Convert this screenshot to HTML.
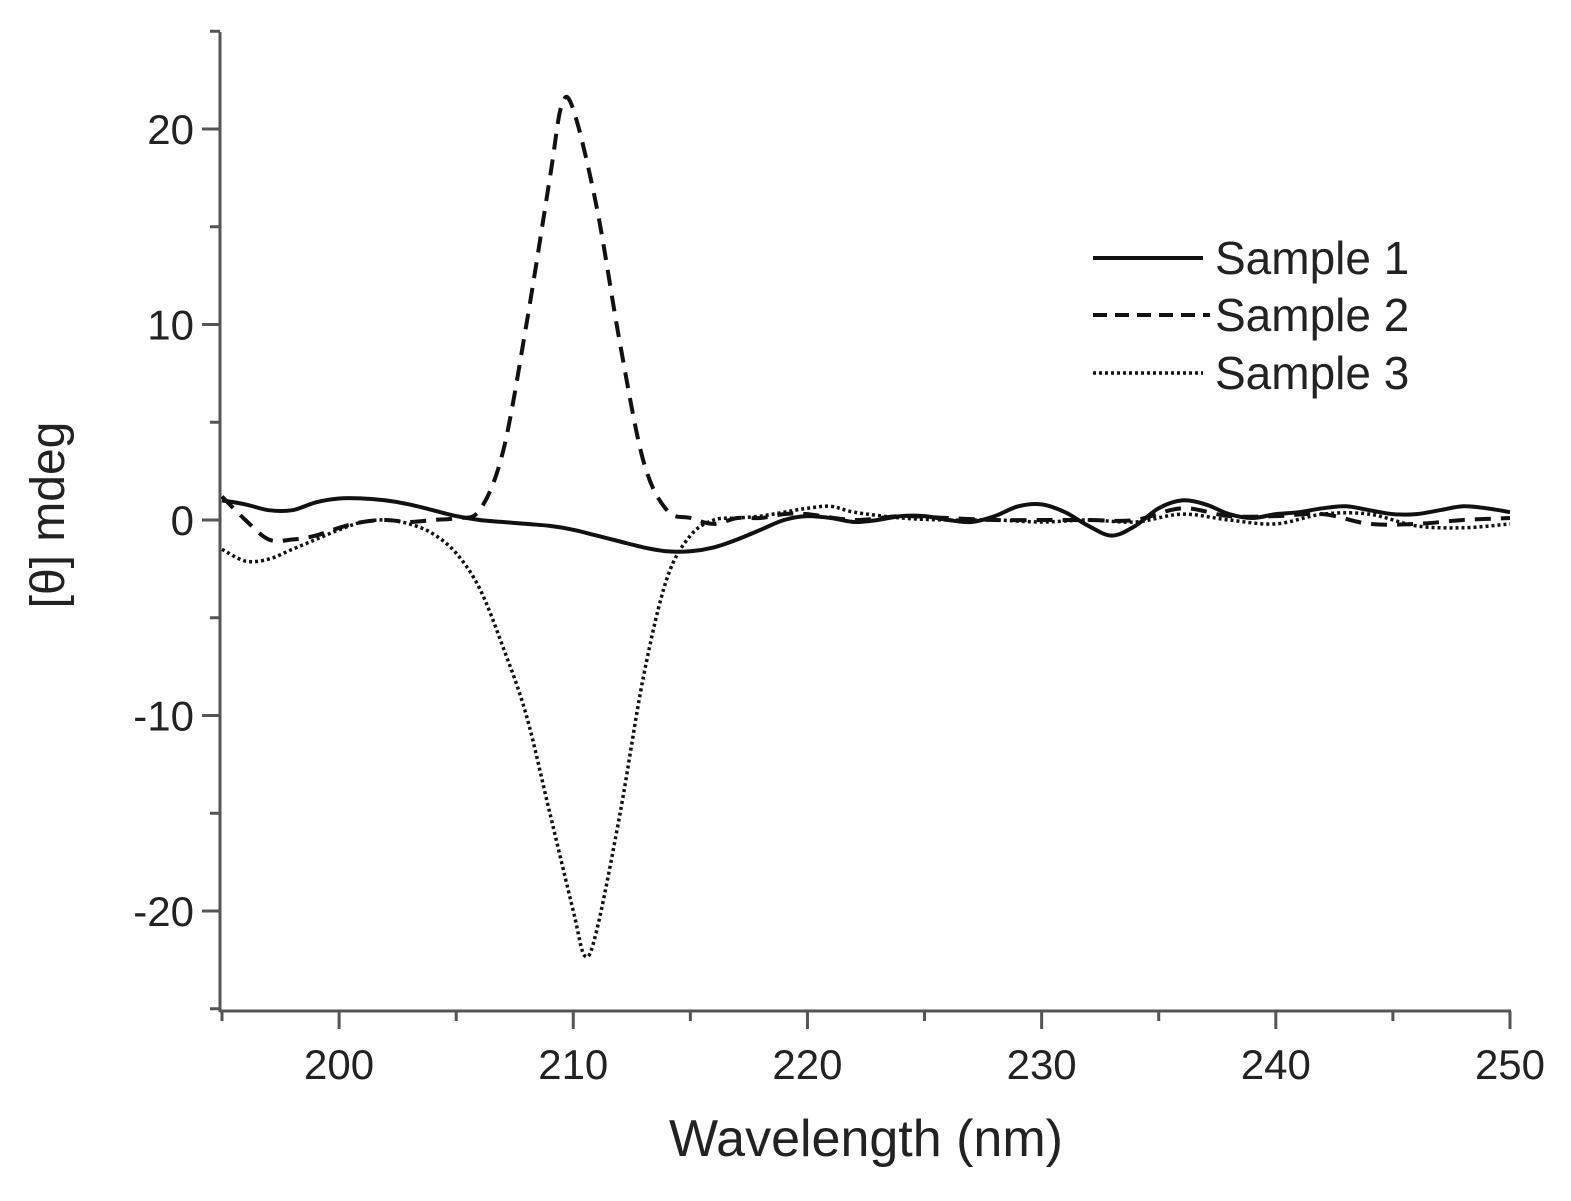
<!DOCTYPE html>
<html><head><meta charset="utf-8"><style>
body{margin:0;background:#fff}
svg text{font-family:"Liberation Sans",sans-serif;fill:#222}
</style></head><body>
<svg id="chart" width="1571" height="1196" xmlns="http://www.w3.org/2000/svg">
<g id="axes"></g>
<g id="series"></g>
<text transform="translate(64,515) rotate(-90)" text-anchor="middle" font-size="48">[θ] mdeg</text>
<text x="866" y="1156" text-anchor="middle" font-size="52">Wavelength (nm)</text>
<g>
<line x1="1093" y1="258" x2="1203" y2="258" stroke="#111" stroke-width="4"/>
<text x="1215" y="274" font-size="46">Sample 1</text>
<line x1="1093" y1="315" x2="1210" y2="315" stroke="#111" stroke-width="4" stroke-dasharray="14,8"/>
<text x="1215" y="331" font-size="46">Sample 2</text>
<line x1="1093" y1="373" x2="1203" y2="373" stroke="#111" stroke-width="3.5" stroke-dasharray="3,3"/>
<text x="1215" y="389" font-size="46">Sample 3</text>
</g>
</svg>
<script>
const xTicks=[200,210,220,230,240,250];
const yTicks=[-20,-10,0,10,20];
const s1x=[195,196,197,198,199,200,201,202,203,204,205,206,207,208,209,210,211,212,213,214,215,216,217,218,219,220,221,222,223,224,225,226,227,228,229,230,231,232,233,234,235,236,237,238,239,240,241,242,243,244,245,246,247,248,249,250];
const s1y=[1.0,0.8,0.5,0.5,0.9,1.1,1.1,1.0,0.8,0.5,0.2,0.0,-0.1,-0.2,-0.3,-0.5,-0.8,-1.1,-1.4,-1.6,-1.6,-1.4,-1.0,-0.5,0.0,0.2,0.1,-0.1,0.0,0.2,0.2,0.0,-0.1,0.2,0.7,0.8,0.4,-0.3,-0.8,-0.3,0.6,1.0,0.8,0.3,0.1,0.3,0.4,0.6,0.7,0.5,0.3,0.3,0.5,0.7,0.6,0.4];
const s2x=[195,196,197,198,199,200,201,202,203,204,205,206,207,208,209,209.5,210,211,212,213,214,215,216,217,218,219,220,222,224,226,228,230,232,234,236,238,240,242,244,246,248,250];
const s2y=[1.2,0.0,-1.0,-1.0,-0.8,-0.4,-0.1,0.0,-0.1,0.0,0.1,0.5,3.5,10,17.5,21.2,21,16,9,3,0.5,0.1,-0.2,0.1,0.1,0.3,0.3,0.0,0.2,0.1,0.0,0.0,0.0,0.0,0.6,0.2,0.2,0.3,-0.2,-0.2,0.0,0.1];
const s3x=[195,196,197,198,199,200,201,202,203,204,205,206,207,208,209,210,210.5,211,212,213,214,215,216,217,218,219,220,221,222,224,226,228,230,232,234,236,238,240,242,244,246,248,250];
const s3y=[-1.5,-2.1,-2.0,-1.5,-1.0,-0.5,-0.1,0.0,-0.2,-0.7,-1.7,-3.5,-6.5,-10,-15,-20,-22.3,-21,-15,-8,-3,-0.8,0.0,0.1,0.2,0.4,0.6,0.7,0.4,0.1,0.0,0.0,-0.1,0.0,-0.1,0.3,0.0,-0.2,0.3,0.3,-0.3,-0.4,-0.2];
const NS='http://www.w3.org/2000/svg';
const X=v=>222+(v-195)*(1510-222)/55;
const Y=v=>520-v*19.55;
function mk(p,tag,at){const e=document.createElementNS(NS,tag);for(const k in at)e.setAttribute(k,at[k]);p.appendChild(e);return e;}
const ax=document.getElementById('axes');
let l=mk(ax,'line',{x1:220,y1:1011,x2:1511,y2:1011,stroke:'#555','stroke-width':3});


l=mk(ax,'line',{x1:220,y1:32,x2:220,y2:1012,stroke:'#555','stroke-width':3});


for(let v=195;v<=250;v+=5){const major=v%10===0;
 const t=mk(ax,'line',{x1:X(v),y1:1011,x2:X(v),y2:1011+(major?18:10),stroke:'#555','stroke-width':3});
 
 }
xTicks.forEach(v=>{const t=mk(ax,'text',{x:X(v),y:1079,'text-anchor':'middle','font-size':42});t.textContent=v;
 
 });
for(let v=-25;v<=25;v+=5){const major=v%10===0;
 const t=mk(ax,'line',{x1:220-(major?18:10),y1:Y(v),x2:220,y2:Y(v),stroke:'#555','stroke-width':3});
 
 }
yTicks.forEach(v=>{const t=mk(ax,'text',{x:194,y:Y(v)+15,'text-anchor':'end','font-size':42});t.textContent=v;
 
 });
const sg=document.getElementById('series');
function line(xs,ys,name,dash,w){
 const P=xs.map((x,i)=>[X(x),Y(ys[i])]);
 let d='M'+P[0][0].toFixed(1)+','+P[0][1].toFixed(1);
 for(let i=0;i<P.length-1;i++){const p0=P[Math.max(i-1,0)],p1=P[i],p2=P[i+1],p3=P[Math.min(i+2,P.length-1)];
  const c1=[p1[0]+(p2[0]-p0[0])/6,p1[1]+(p2[1]-p0[1])/6],c2=[p2[0]-(p3[0]-p1[0])/6,p2[1]-(p3[1]-p1[1])/6];
  d+='C'+c1.map(n=>n.toFixed(1)).join(',')+' '+c2.map(n=>n.toFixed(1)).join(',')+' '+p2.map(n=>n.toFixed(1)).join(',');}
 const p=mk(sg,'path',{d:d,fill:'none',stroke:'#111','stroke-width':w,'stroke-linejoin':'round'});
 if(dash)p.setAttribute('stroke-dasharray',dash);
 
 }
line(s1x,s1y,'sample-1-line',null,4);
line(s2x,s2y,'sample-2-line','16,10',4);
line(s3x,s3y,'sample-3-line','3,3',3.5);
</script>
</body></html>
